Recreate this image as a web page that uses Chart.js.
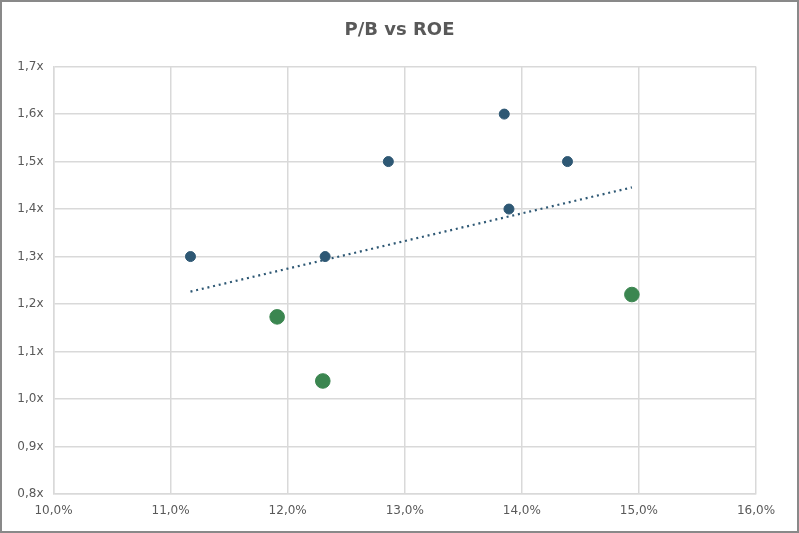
<!DOCTYPE html>
<html>
<head>
<meta charset="utf-8">
<script src="https://cdn.jsdelivr.net/npm/chart.js@4"></script>
<style>
    html, body { margin: 0; padding: 0; background: #fff; }
    #wrap { width: 799px; height: 533px; }
</style>
</head>
<body>
<div id="wrap"><canvas id="chart" width="799" height="533"></canvas></div>
<script>
    // ROE (%) and P/B (x) per company
    const roePeers = [11.17, 12.32, 12.86, 13.85, 13.89, 14.39];
    const pbPeers = [1.30, 1.30, 1.50, 1.60, 1.40, 1.50];
    const roeFocus = [11.91, 12.30, 14.94];
    const pbFocus = [1.173, 1.038, 1.22];

    const xMin = 10, xMax = 16, xStep = 1;
    const yMin = 0.8, yMax = 1.7, yStep = 0.1;

    const TEXT = "#595959";
    const GRID = "#d9d9d9";
    const FONT = "'DejaVu Sans', sans-serif";

    function toPoints(xs, ys) {
        return xs.map((x, i) => ({ x, y: ys[i] }));
    }

    // linear trend over all points, drawn from min to max ROE
    function trend(xs, ys) {
        const n = xs.length;
        const mx = xs.reduce((a, b) => a + b, 0) / n;
        const my = ys.reduce((a, b) => a + b, 0) / n;
        let sxy = 0, sxx = 0;
        xs.forEach((x, i) => {
            sxy += (x - mx) * (ys[i] - my);
            sxx += (x - mx) * (x - mx);
        });
        const b = sxy / sxx;
        const a = my - b * mx;
        const lo = Math.min(...xs), hi = Math.max(...xs);
        return [{ x: lo, y: a + b * lo }, { x: hi, y: a + b * hi }];
    }

    const allX = roePeers.concat(roeFocus);
    const allY = pbPeers.concat(pbFocus);

    const frame = {
        id: "frame",
        beforeDraw(chart) {
            const c = chart.ctx;
            c.save();
            c.fillStyle = "#fff";
            c.fillRect(0, 0, chart.width, chart.height);
            c.restore();
        },
        afterDraw(chart) {
            const c = chart.ctx;
            c.save();
            c.strokeStyle = "#898989";
            c.lineWidth = 2;
            c.strokeRect(1, 1, chart.width - 2, chart.height - 2);
            c.restore();
        },
    };

    new Chart(document.getElementById("chart"), {
        type: "scatter",
        data: {
            datasets: [
                {
                    label: "Trend",
                    data: trend(allX, allY),
                    showLine: true,
                    borderColor: "#2e5874",
                    borderWidth: 2.2,
                    borderDash: [2, 3.8],
                    pointRadius: 0,
                    pointHoverRadius: 0,
                    order: 3,
                },
                {
                    label: "Peers",
                    data: toPoints(roePeers, pbPeers),
                    backgroundColor: "#2e5874",
                    borderColor: "#2e5874",
                    pointRadius: 5,
                    order: 1,
                },
                {
                    label: "Focus",
                    data: toPoints(roeFocus, pbFocus),
                    backgroundColor: "#3b8650",
                    borderColor: "#3b8650",
                    pointRadius: 7.3,
                    order: 2,
                },
            ],
        },
        options: {
            responsive: false,
            animation: false,
            layout: { padding: { left: 8, right: 8, top: 6, bottom: 5 } },
            plugins: {
                legend: { display: false },
                tooltip: { enabled: false },
                title: {
                    display: true,
                    text: "P/B vs ROE",
                    color: TEXT,
                    font: { family: FONT, size: 18, weight: "bold" },
                    padding: { top: 14, bottom: 25 },
                },
            },
            scales: {
                x: {
                    type: "linear",
                    min: xMin,
                    max: xMax,
                    ticks: {
                        stepSize: xStep,
                        color: TEXT,
                        padding: 10,
                        font: { family: FONT, size: 12 },
                        callback: (v) => v.toFixed(1).replace(".", ",") + "%",
                    },
                    grid: { color: GRID, lineWidth: 1.5, drawTicks: false },
                    border: { color: GRID, width: 1.5 },
                    afterFit(scale) { scale.height = 34; },
                },
                y: {
                    type: "linear",
                    min: yMin,
                    max: yMax,
                    ticks: {
                        stepSize: yStep,
                        color: TEXT,
                        padding: 10,
                        font: { family: FONT, size: 12 },
                        callback: (v) => v.toFixed(1).replace(".", ",") + "x",
                    },
                    grid: { color: GRID, lineWidth: 1.5, drawTicks: false },
                    border: { color: GRID, width: 1.5 },
                    afterFit(scale) { scale.width = 45.5; },
                },
                // empty right-hand spacer so the plot ends where the reference does
                spacer: {
                    type: "linear",
                    position: "right",
                    grid: { display: false },
                    border: { display: false },
                    ticks: { display: false },
                    afterFit(scale) { scale.width = 35; },
                },
            },
        },
        plugins: [frame],
    });
</script>
</body>
</html>
